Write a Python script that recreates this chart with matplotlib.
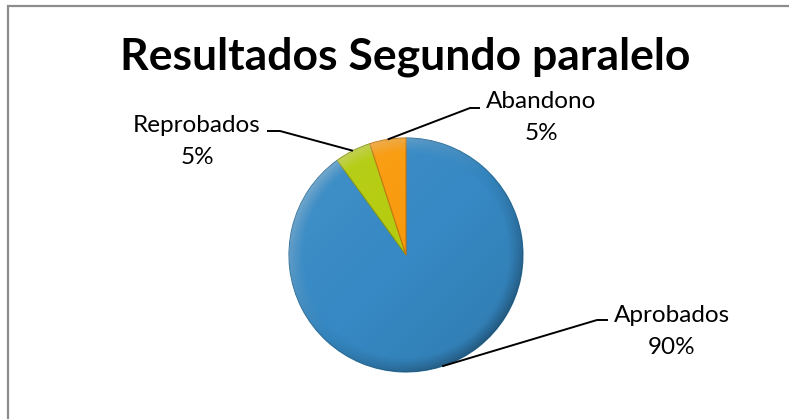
import numpy as np
import matplotlib.pyplot as plt
from matplotlib.patches import Circle

# data
labels = ['Aprobados', 'Reprobados', 'Abandono']
percent = [90, 5, 5]
colors = ['#3689c4', '#b4cc0e', '#f99a0c']
edge_colors = ['#2c729f', '#8a9a12', '#c8760c']

# label layout (pixels, y measured from top of image)
label_pos = {'Aprobados': (672, 322), 'Reprobados': (197, 132), 'Abandono': (541, 108)}
elbow = {'Aprobados': (597, 608, 320), 'Reprobados': (280, 267, 131), 'Abandono': (470, 480, 108)}

plt.rcParams['font.family'] = ['Lato', 'DejaVu Sans']

W, H = 789, 419
fig = plt.figure(figsize=(W / 100, H / 100), dpi=100)
ax = fig.add_axes([0, 0, 1, 1])

cx, cy, r = 406, H - 255, 117
wedges, _ = ax.pie(percent, colors=colors, startangle=90, counterclock=False,
                   center=(cx, cy), radius=r,
                   wedgeprops=dict(linewidth=0.8))
for w, ec in zip(wedges, edge_colors):
    w.set_edgecolor(ec)

ax.set_xlim(0, W)
ax.set_ylim(0, H)
ax.set_aspect('equal')
ax.axis('off')

# fake the excel bevel: light top-left, dark bottom-right, soft rim
xs = np.linspace(cx - r, cx + r, 300)
ys = np.linspace(cy - r, cy + r, 300)
X, Y = np.meshgrid(xs, ys)
dx, dy = (X - cx) / r, (Y - cy) / r
rho = np.sqrt(dx ** 2 + dy ** 2)
t = (-dx + dy) / np.sqrt(2)
rim = np.clip((rho - 0.88) / 0.12, 0, 1)
light = np.zeros(X.shape + (4,))
light[..., :3] = 1
light[..., 3] = np.clip(0.05 * t, 0, None) + rim * np.clip(0.28 * t, 0, None)
dark = np.zeros(X.shape + (4,))
dark[..., 3] = np.clip(-0.08 * t, 0, None) + rim * (0.05 + np.clip(-0.22 * t, 0, None))
clip = Circle((cx, cy), r, transform=ax.transData)
for img in (light, dark):
    im = ax.imshow(np.clip(img, 0, 1), extent=(cx - r, cx + r, cy - r, cy + r),
                   origin='lower', interpolation='bilinear', zorder=3)
    im.set_clip_path(clip)
ax.set_xlim(0, W)
ax.set_ylim(0, H)

# leader lines and labels
for w, name, p in zip(wedges, labels, percent):
    mid = np.deg2rad((w.theta1 + w.theta2) / 2)
    x0, y0 = cx + r * np.cos(mid), cy + r * np.sin(mid)
    ex, hx, ey = elbow[name]
    ax.plot([x0, ex, hx], [y0, H - ey, H - ey], color='black', lw=1.4,
            solid_capstyle='butt', zorder=4)
    lx, ly = label_pos[name]
    ax.text(lx, H - ly, name, ha='center', va='baseline', fontsize=17.5)
    ax.text(lx, H - ly - 32, f'{p}%', ha='center', va='baseline', fontsize=17.5)

ax.text(405, H - 69, 'Resultados Segundo paralelo', ha='center', va='baseline',
        fontsize=32, fontweight='bold')

# chart area border (only top and left edges are inside the crop)
ax.plot([8, 8, W + 5], [-5, H - 6, H - 6], color='#8c8c8c', lw=1.6,
        solid_joinstyle='miter', zorder=5)

fig.savefig('out.png', dpi=100, facecolor='white')
